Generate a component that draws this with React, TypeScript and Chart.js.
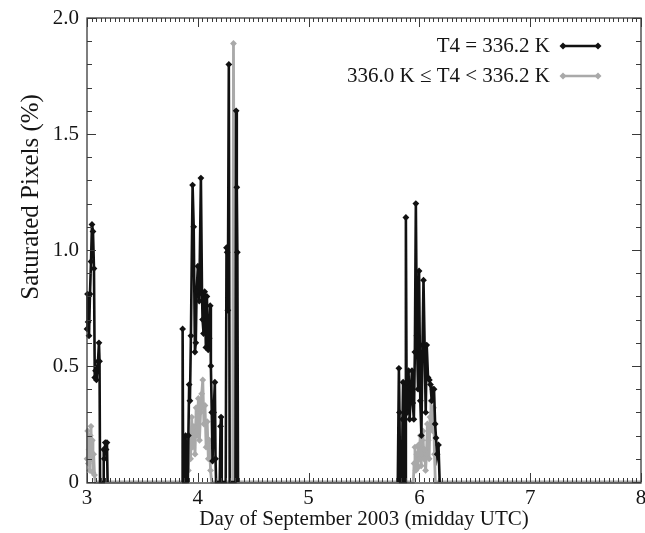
import React, { useEffect, useRef } from "react";
import { Chart, registerables } from "chart.js";

Chart.register(...registerables);

// ---- data (day of September 2003, saturated pixels %) ----
const seriesLabels = ["T4 = 336.2 K", "336.0 K \u2264 T4 < 336.2 K"];
const xTickDays = [3, 4, 5, 6, 7, 8];
const yTickValues = [0, 0.5, 1.0, 1.5, 2.0];
const yTickLabels = ["0", "0.5", "1.0", "1.5", "2.0"];
const xTitle = "Day of September 2003 (midday UTC)";
const yTitle = "Saturated Pixels (%)";

const blackDay = [
  3.000, 3.005, 3.010, 3.018, 3.027, 3.036, 3.045, 3.054, 3.063, 3.070, 3.077, 3.085, 3.099, 3.108, 3.113, 3.118, 3.145, 3.151, 3.156, 3.165, 3.172, 3.180, 3.186,
  3.5,
  3.858, 3.863, 3.868, 3.886, 3.890, 3.896, 3.910, 3.915, 3.922, 3.929, 3.938, 3.953, 3.963, 3.974, 3.982, 3.989, 4.001, 4.013, 4.028, 4.038,
  4.043, 4.052, 4.062, 4.073, 4.082, 4.094, 4.103, 4.112, 4.118, 4.126, 4.133, 4.143, 4.154, 4.160, 4.165, 4.198, 4.205, 4.210, 4.216, 4.252,
  4.259, 4.265, 4.271, 4.280, 4.288, 4.340, 4.346, 4.352, 4.357, 4.363,
  5.0,
  5.805, 5.815, 5.820, 5.826, 5.842, 5.848, 5.853, 5.858, 5.872, 5.878, 5.884, 5.892, 5.902, 5.912, 5.923, 5.933, 5.940, 5.950, 5.959, 5.968,
  5.977, 5.988, 5.997, 6.008, 6.018, 6.028, 6.037, 6.047, 6.057, 6.066, 6.078, 6.090, 6.100, 6.111, 6.122, 6.132, 6.142, 6.150, 6.160, 6.172, 6.183,
];
const blackPct = [
  0.66, 0.81, 0.69, 0.63, 0.81, 0.95, 1.11, 1.08, 0.92, 0.45, 0.48, 0.44, 0.52, 0.60, 0.52, 0, 0, 0.14, 0.10, 0.17, 0.14, 0.17, 0,
  null,
  0, 0.66, 0, 0, 0.20, 0, 0, 0.20, 0.42, 0.35, 0.63, 1.28, 1.10, 0.56, 0.60, 0.82, 0.93, 0.78, 1.31, 0.81,
  0.70, 0.64, 0.82, 0.58, 0.80, 0.57, 0.62, 0.76, 0.50, 0.30, 0.09, 0.30, 0.43, 0.10, 0, 0, 0.24, 0.28, 0, 0,
  1.01, 0.99, 0.74, 1.80, 0, 0, 1.60, 1.27, 0.99, 0,
  null,
  0, 0.49, 0.30, 0, 0, 0.27, 0.43, 0, 0, 1.14, 0.43, 0.30, 0.48, 0.27, 0.40, 0.48, 0.34, 0.27, 0.56, 1.20,
  0.63, 0.40, 0.91, 0.35, 0.20, 0.59, 0.87, 0.59, 0.30, 0.59, 0.45, 0.44, 0.42, 0.35, 0.40, 0.40, 0.25, 0.19, 0.12, 0.16, 0,
];

const grayDay = [
  3.000, 3.006, 3.012, 3.018, 3.024, 3.030, 3.036, 3.042, 3.048, 3.054, 3.060, 3.068, 3.075,
  3.895, 3.905, 3.915, 3.925, 3.935, 3.945, 3.955, 3.965, 3.975, 3.985, 3.995, 4.005, 4.015, 4.025, 4.035, 4.045, 4.055, 4.065, 4.075, 4.085,
  4.095, 4.105, 4.115, 4.125,
  4.315, 4.322, 4.335,
  5.945, 5.952, 5.960, 5.968, 5.976, 5.984, 5.992, 6.000, 6.008, 6.016, 6.024, 6.032, 6.040, 6.048, 6.056, 6.064, 6.072, 6.080, 6.088, 6.096,
  6.104, 6.112, 6.120, 6.128, 6.136, 6.144,
  8.0,
];
const grayPct = [
  0.10, 0.22, 0.08, 0.14, 0.05, 0.20, 0.24, 0.10, 0.18, 0.04, 0.12, 0.03, 0,
  0, 0.12, 0.05, 0.20, 0.10, 0.28, 0.15, 0.24, 0.12, 0.32, 0.20, 0.36, 0.18, 0.30, 0.38, 0.44, 0.25, 0.33, 0.15, 0.26,
  0.10, 0.18, 0.05, 0,
  0, 1.89, 0,
  0, 0.08, 0.15, 0.05, 0.12, 0.06, 0.16, 0.10, 0.20, 0.07, 0.18, 0.22, 0.10, 0.14, 0.05, 0.12, 0.25, 0.18, 0.10, 0.28,
  0.35, 0.30, 0.22, 0.32, 0.12, 0,
  0,
];

const FONT = '"Liberation Serif", "Times New Roman", serif';
const TEXT = "#151515";
const BLACK = "#111111";
const GRAY = "#a9a9a9";

function drawDiamond(ctx: CanvasRenderingContext2D, x: number, y: number, r: number) {
  ctx.beginPath();
  ctx.moveTo(x, y - r);
  ctx.lineTo(x + r, y);
  ctx.lineTo(x, y + r);
  ctx.lineTo(x - r, y);
  ctx.closePath();
  ctx.fill();
}

const framePlugin = {
  id: "frameTicks",
  afterDatasetsDraw(chart: any) {
    const { ctx, chartArea: a } = chart;
    const xs = chart.scales.x;
    const ys = chart.scales.y;
    ctx.save();
    ctx.strokeStyle = "#3a3a3a";
    ctx.lineWidth = 1.3;
    ctx.strokeRect(a.left, a.top, a.right - a.left, a.bottom - a.top + 1);
    ctx.lineWidth = 1;
    ctx.beginPath();
    for (let h = xs.min * 24; h <= xs.max * 24; h++) {
      const px = Math.round(xs.getPixelForValue(h / 24)) + 0.5;
      const len = h % 24 === 0 ? 9 : 4;
      ctx.moveTo(px, a.bottom);
      ctx.lineTo(px, a.bottom - len);
      ctx.moveTo(px, a.top);
      ctx.lineTo(px, a.top + len);
    }
    for (let k = 0; k <= 20; k++) {
      const py = Math.round(ys.getPixelForValue(k / 10)) + 0.5;
      const len = k % 5 === 0 ? 9 : 5;
      ctx.moveTo(a.left, py);
      ctx.lineTo(a.left + len, py);
      ctx.moveTo(a.right, py);
      ctx.lineTo(a.right - len, py);
    }
    ctx.stroke();
    ctx.restore();
  },
};

const legendPlugin = {
  id: "inlineLegend",
  afterDraw(chart: any) {
    const { ctx, chartArea: a } = chart;
    ctx.save();
    ctx.font = `21px ${FONT}`;
    ctx.textAlign = "right";
    ctx.textBaseline = "middle";
    chart.data.datasets.forEach((ds: any, i: number) => {
      const y = a.top + 28 + i * 30;
      const textRight = a.right - 91;
      ctx.fillStyle = TEXT;
      ctx.fillText(ds.label, textRight, y);
      const x0 = textRight + 13;
      const x1 = textRight + 48;
      ctx.strokeStyle = ds.borderColor;
      ctx.lineWidth = 2.4;
      ctx.beginPath();
      ctx.moveTo(x0, y);
      ctx.lineTo(x1, y);
      ctx.stroke();
      ctx.fillStyle = ds.borderColor;
      drawDiamond(ctx, x0, y, 3.5);
      drawDiamond(ctx, x1, y, 3.5);
    });
    ctx.restore();
  },
};

export default function App() {
  const ref = useRef<HTMLCanvasElement | null>(null);

  useEffect(() => {
    document.body.style.margin = "0";
    const canvas = ref.current;
    if (!canvas) return;

    const blackData = blackDay.map((d, i) => ({ x: d, y: blackPct[i] }));
    const grayData = grayDay.map((d, i) => ({ x: d, y: grayPct[i] }));
    const markerRadius = (c: any) => (c.raw && c.raw.y > 0 ? 3.4 : 0);

    const chart = new Chart(canvas, {
      type: "line",
      data: {
        datasets: [
          {
            label: seriesLabels[0],
            data: blackData as any,
            borderColor: BLACK,
            backgroundColor: BLACK,
            borderWidth: 2.6,
            pointStyle: "rectRot",
            pointRadius: markerRadius as any,
            pointBorderWidth: 0,
            pointBackgroundColor: BLACK,
            spanGaps: false,
            tension: 0,
            clip: 4,
          },
          {
            label: seriesLabels[1],
            data: grayData as any,
            borderColor: GRAY,
            backgroundColor: GRAY,
            borderWidth: 2.8,
            pointStyle: "rectRot",
            pointRadius: markerRadius as any,
            pointBorderWidth: 0,
            pointBackgroundColor: GRAY,
            spanGaps: false,
            tension: 0,
            clip: 4,
          },
        ],
      },
      options: {
        animation: false,
        responsive: false,
        devicePixelRatio: 1,
        layout: { padding: { top: 18, right: 2, left: 0, bottom: 0 } },
        plugins: {
          legend: { display: false },
          tooltip: { enabled: false },
        },
        scales: {
          x: {
            type: "linear",
            min: 3,
            max: 8,
            grid: { display: false, drawTicks: false },
            border: { display: false },
            afterBuildTicks: (s: any) => {
              s.ticks = xTickDays.map((v) => ({ value: v }));
            },
            afterFit: (s: any) => {
              s.height = 51;
              s.paddingLeft = 0;
              s.paddingRight = 0;
            },
            ticks: {
              padding: 4,
              maxRotation: 0,
              autoSkip: false,
              color: TEXT,
              font: { family: FONT, size: 21 },
              callback: (v: any) => String(v),
            },
            title: {
              display: true,
              text: xTitle,
              color: TEXT,
              font: { family: FONT, size: 21 },
              padding: { top: 0, bottom: 1 },
            },
          },
          y: {
            type: "linear",
            min: 0,
            max: 2,
            grid: { display: false, drawTicks: false },
            border: { display: false },
            afterBuildTicks: (s: any) => {
              s.ticks = yTickValues.map((v) => ({ value: v }));
            },
            afterFit: (s: any) => {
              s.width = 87;
              s.paddingTop = 0;
              s.paddingBottom = 0;
            },
            ticks: {
              padding: 8,
              autoSkip: false,
              color: TEXT,
              font: { family: FONT, size: 21 },
              callback: (v: any) => {
                const i = yTickValues.indexOf(Number(v));
                return i >= 0 ? yTickLabels[i] : "";
              },
            },
            title: {
              display: true,
              text: "                 " + yTitle,
              color: TEXT,
              font: { family: FONT, size: 25 },
              padding: { top: 16, bottom: 0 },
            },
          },
        },
      },
      plugins: [framePlugin, legendPlugin],
    });

    return () => chart.destroy();
  }, []);

  return (
    <div style={{ width: 645, height: 533 }}>
      <canvas ref={ref} width={645} height={533} style={{ display: "block" }} />
    </div>
  );
}
